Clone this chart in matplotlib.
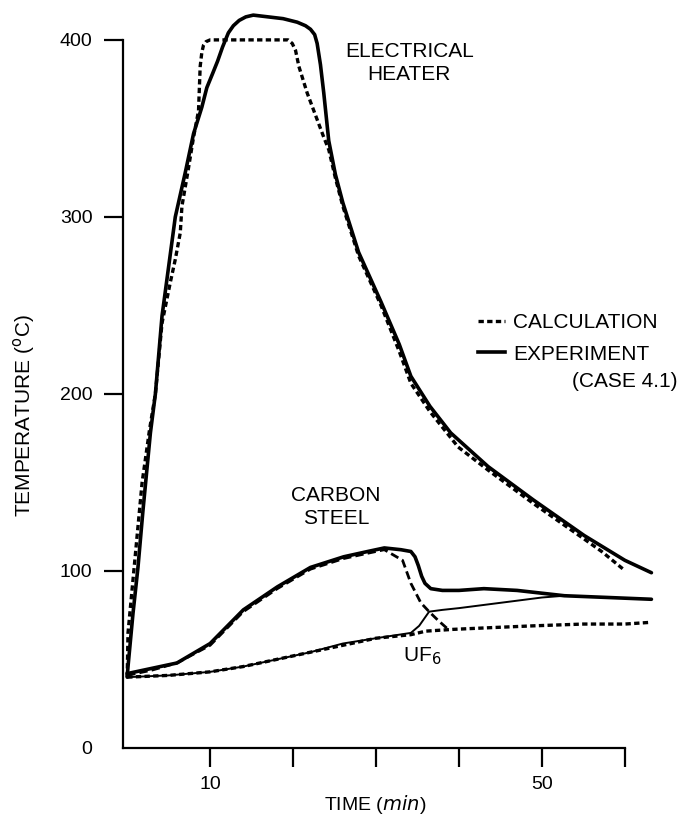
import matplotlib.pyplot as plt

# Electrical heater, experiment (solid) and calculation (dashed)
heater_exp_t = [0, 0.1, 0.7, 1.3, 1.9, 2.8, 3.4, 4.2, 5.0, 5.8, 7.0, 8.0, 9.0, 9.6, 10.3, 10.9,
                11.5, 12.2, 12.8, 13.5, 14.3, 15.2, 17.0, 18.8, 20.5, 21.5, 22.1, 22.6,
                22.9, 23.3, 23.7, 24.3, 25.1, 26.0, 27.9, 30.6, 32.8, 34.2, 36.5, 39.0,
                43.5, 49.0, 55.1, 60.0, 63.2]
heater_exp_T = [40, 46, 76, 102, 134, 178, 200, 244, 272, 300, 325, 347, 362, 373, 381, 388,
                396, 404, 408, 411, 413, 414, 413, 412, 410, 408, 406, 403,
                398, 386, 370, 343, 324, 308, 280, 252, 228, 210, 193, 178,
                159, 140, 120, 106, 99]

heater_calc_t = [0, 0.1, 0.6, 1.2, 1.8, 2.7, 3.4, 4.2, 5.2, 5.8, 6.4, 6.6, 7.3, 8.0, 8.6,
                 8.8, 9.0, 9.2, 9.5, 10.0, 15.0, 19.4, 19.9, 20.3, 20.7, 21.7, 22.9, 23.7,
                 24.3, 25.1, 26.0, 27.9, 30.6, 32.8, 34.2, 36.5, 39.9, 43.5, 49.0, 55.1,
                 57.2, 59.8]
heater_calc_T = [40, 65, 90, 120, 150, 180, 200, 240, 263, 276, 291, 306, 325, 345, 360,
                 385, 393, 397, 399, 400, 400, 400, 398, 394, 385, 370, 355, 345,
                 338, 322, 306, 278, 250, 224, 206, 190, 170, 157, 138, 118,
                 111, 101]

# Carbon steel
steel_exp_t = [0, 3, 6, 10, 14, 18.1, 22.1, 26.1, 29, 31, 33, 34.2, 34.7, 35.1, 35.5, 35.9,
               36.6, 38, 40, 43, 47, 52.7, 58, 63.2]
steel_exp_T = [42, 45, 48, 59, 78, 91, 102, 108, 111, 113, 112, 111, 108, 103, 97, 93,
               90, 89, 89, 90, 89, 86, 85, 84]

steel_calc_t = [0, 3, 6, 10, 14, 18.1, 22.1, 26.1, 29, 31, 33.2, 34.2, 35.4, 36.4, 37.5, 38.7]
steel_calc_T = [41, 44, 48, 58, 77, 90, 101, 107, 110, 112, 106, 93, 82, 77, 72, 67]

# UF6
uf6_exp_t = [0, 5, 10, 14, 18, 22, 26, 30, 34.2, 35.2, 36.4, 38, 40, 45, 50, 52.7]
uf6_exp_T = [40, 41, 43, 46, 50, 54, 59, 62, 65, 69, 77, 78, 79, 82, 85, 86]

uf6_calc_t = [0, 5, 10, 14, 18, 22, 26, 30, 34.2, 36, 39.3, 44, 49, 55, 60, 63.2]
uf6_calc_T = [40, 41, 43, 46, 50, 54, 58, 62, 64, 66, 67, 68, 69, 70, 70, 71]

x_ticks = [10, 20, 30, 40, 50, 60]
x_labels = ['10', '', '', '', '50', '']
y_ticks = [0, 100, 200, 300, 400]

plt.rcParams['font.family'] = ['Liberation Sans', 'DejaVu Sans']

fig = plt.figure(figsize=(6.82, 8.17), dpi=100)
ax = fig.add_axes([0.1804, 0.0845, 0.7845, 0.910])

dash = (0, (1.6, 1.0))
ax.plot(heater_exp_t, heater_exp_T, color='black', lw=2.6, solid_capstyle='round', solid_joinstyle='round')
ax.plot(heater_calc_t, heater_calc_T, color='black', lw=2.4, linestyle=dash)
ax.plot(steel_exp_t, steel_exp_T, color='black', lw=2.6, solid_capstyle='round', solid_joinstyle='round')
ax.plot(steel_calc_t, steel_calc_T, color='black', lw=2.0, linestyle=(0, (3, 1.5)))
ax.plot(uf6_exp_t, uf6_exp_T, color='black', lw=1.4)
ax.plot(uf6_calc_t, uf6_calc_T, color='black', lw=2.4, linestyle=dash)

# Axes limits, the spines stop at 60 min and 400 C
ax.set_xlim(-0.5, 64)
ax.set_ylim(0, 420)
ax.spines['top'].set_visible(False)
ax.spines['right'].set_visible(False)
ax.spines['left'].set_bounds(0, 400)
ax.spines['bottom'].set_bounds(-0.5, 60)
ax.spines['left'].set_linewidth(1.6)
ax.spines['bottom'].set_linewidth(1.6)

ax.set_xticks(x_ticks)
ax.set_xticklabels(x_labels)
ax.set_yticks(y_ticks)
ax.tick_params(axis='both', direction='out', width=1.6, labelsize=14)
ax.tick_params(axis='y', length=14, pad=8)
ax.tick_params(axis='x', length=14, pad=6)
ax.yaxis.get_major_ticks()[0].tick1line.set_visible(False)

ax.set_xlabel('TIME ($\\mathit{min}$)', fontsize=14)
ax.xaxis.set_label_coords((375 - 123) / 535, -0.061)
ax.set_ylabel('TEMPERATURE ($^{\\mathrm{o}}$C)', fontsize=15)
ax.yaxis.set_label_coords(-0.16, (748 - 415) / 744)

# Curve labels
ax.text(34.0, 387, 'ELECTRICAL\nHEATER', fontsize=15, ha='center', va='center', linespacing=1.3)
ax.text(25.2, 136, 'CARBON\nSTEEL', fontsize=15, ha='center', va='center', linespacing=1.25)
ax.text(33.2, 52, 'UF$_6$', fontsize=15, ha='left', va='center')

# Legend
ax.plot([], [], color='black', lw=2.4, linestyle=dash, label='CALCULATION')
ax.plot([], [], color='black', lw=2.6, label='EXPERIMENT')
handles, labels = ax.get_legend_handles_labels()
ax.legend(handles[-2:], labels[-2:], loc='upper left', bbox_to_anchor=(478 / 682, 1 - 313 / 817),
          bbox_transform=fig.transFigure, frameon=False, fontsize=15, handlelength=1.3,
          handletextpad=0.4, borderpad=0, borderaxespad=0, labelspacing=0.6)
ax.text(66.4, 207, '(CASE 4.1)', fontsize=15, ha='right', va='center')

plt.savefig('out.png', dpi=100)
